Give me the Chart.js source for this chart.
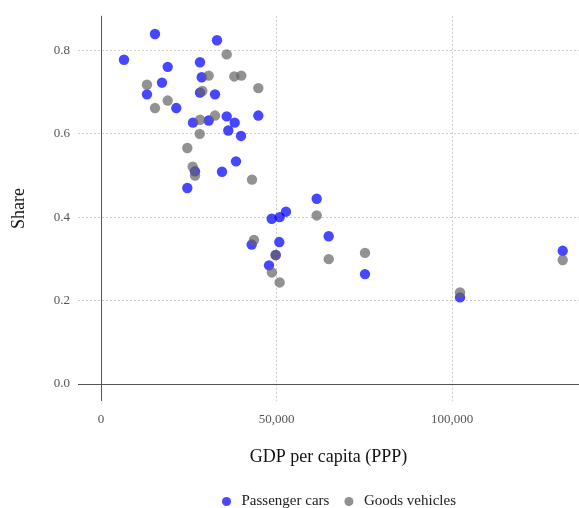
<!DOCTYPE html>
<html>
<head>
<meta charset="utf-8">
<script src="https://cdn.jsdelivr.net/npm/chart.js@4/dist/chart.umd.min.js"></script>
<style>
html,body{margin:0;padding:0;background:#fff;overflow:hidden;}
#wrap{width:579px;height:508px;position:relative;}
</style>
</head>
<body>
<div id="wrap"><canvas id="c"></canvas></div>
<script>
const carsX = [6550,13100,15380,17380,19000,21450,24590,26200,26780,28200,28690,28200,30680,32480,33050,34470,35810,36270,38090,38460,39890,44820,42930,47860,48630,49770,50800,50900,52700,61450,64870,75210,102280,131540];
const carsY = [0.778,0.695,0.840,0.723,0.761,0.662,0.470,0.627,0.510,0.772,0.736,0.699,0.632,0.695,0.825,0.509,0.642,0.608,0.627,0.534,0.595,0.644,0.334,0.284,0.396,0.309,0.340,0.400,0.413,0.444,0.354,0.263,0.207,0.319];
const goodsX = [13100,15380,19000,24590,26120,26780,28120,28200,28860,30680,32480,35810,37980,39970,43020,43590,44820,48700,49770,50900,61450,64870,75210,102280,131540];
const goodsY = [0.718,0.662,0.680,0.566,0.521,0.500,0.600,0.634,0.703,0.740,0.644,0.791,0.738,0.740,0.490,0.345,0.710,0.267,0.309,0.243,0.404,0.299,0.314,0.219,0.297];
const xTicks = [0,50000,100000];
const yTicks = [0,0.2,0.4,0.6,0.8];
const seriesNames = ['Passenger cars','Goods vehicles'];

const FONT = "'Liberation Serif','Times New Roman',serif";

const zeroAxes = {
  id:'zeroAxes',
  beforeDatasetsDraw(chart){
    const {ctx, chartArea:a, scales:{x,y}} = chart;
    const px = x.getPixelForValue(0), py = y.getPixelForValue(0);
    ctx.save();
    ctx.strokeStyle = '#555';
    ctx.lineWidth = 1;
    ctx.beginPath();
    ctx.moveTo(a.left, Math.round(py)+0.5); ctx.lineTo(a.right, Math.round(py)+0.5);
    ctx.moveTo(Math.round(px)+0.5, a.top); ctx.lineTo(Math.round(px)+0.5, a.bottom);
    ctx.stroke();
    ctx.restore();
  }
};

const legendShift = {
  id:'legendShift',
  afterLayout(chart){
    const lg = chart.legend;
    if (lg) { lg.left += 48; lg.right += 48; }
  }
};

new Chart(document.getElementById('c'), {
  type:'scatter',
  data:{
    datasets:[
      {label:seriesNames[0], data:carsX.map((v,i)=>({x:v,y:carsY[i]})), backgroundColor:'rgba(0,0,255,0.72)', borderWidth:0, pointRadius:5.2, pointHoverRadius:5.2, order:1},
      {label:seriesNames[1], data:goodsX.map((v,i)=>({x:v,y:goodsY[i]})), backgroundColor:'rgba(100,100,100,0.7)', borderWidth:0, pointRadius:5.2, pointHoverRadius:5.2, order:0}
    ]
  },
  options:{
    responsive:true, maintainAspectRatio:false, animation:false,
    layout:{autoPadding:false, padding:{top:14,right:0,left:0,bottom:-11}},
    plugins:{
      tooltip:{enabled:false},
      legend:{
        position:'bottom',
        labels:{usePointStyle:true, pointStyle:'circle', boxWidth:15, boxHeight:6.4, padding:12, color:'#222', font:{family:FONT,size:15},
          sort:(a,b)=>a.datasetIndex-b.datasetIndex}
      }
    },
    scales:{
      x:{type:'linear', min:-6553, max:136182,
        afterBuildTicks(s){ s.ticks = xTicks.map(v=>({value:v})); },
        afterFit(s){ s.height = 81; },
        grid:{color:c=>c.tick && c.tick.value===0?'rgba(0,0,0,0)':'#ccc', drawTicks:false},
        border:{display:false, dash:[2,2]},
        ticks:{padding:11, color:'#555', font:{family:FONT,size:13}, callback:v=>v.toLocaleString('en-US')},
        title:{display:true, text:'GDP per capita (PPP)', color:'#111', font:{family:FONT,size:18}, padding:{top:0,bottom:14}}
      },
      y:{type:'linear', min:-0.0419, max:0.8837,
        afterBuildTicks(s){ s.ticks = yTicks.map(v=>({value:v})); },
        afterFit(s){ s.width = 78; },
        grid:{color:c=>c.tick && c.tick.value===0?'rgba(0,0,0,0)':'#ccc', drawTicks:false},
        border:{display:false, dash:[2,2]},
        ticks:{padding:8, color:'#555', font:{family:FONT,size:13}, callback:v=>Number(v).toFixed(1)},
        title:{display:true, text:'Share', color:'#111', font:{family:FONT,size:18}, padding:{top:8,bottom:0}}
      }
    }
  },
  plugins:[zeroAxes, legendShift]
});
</script>
</body>
</html>
